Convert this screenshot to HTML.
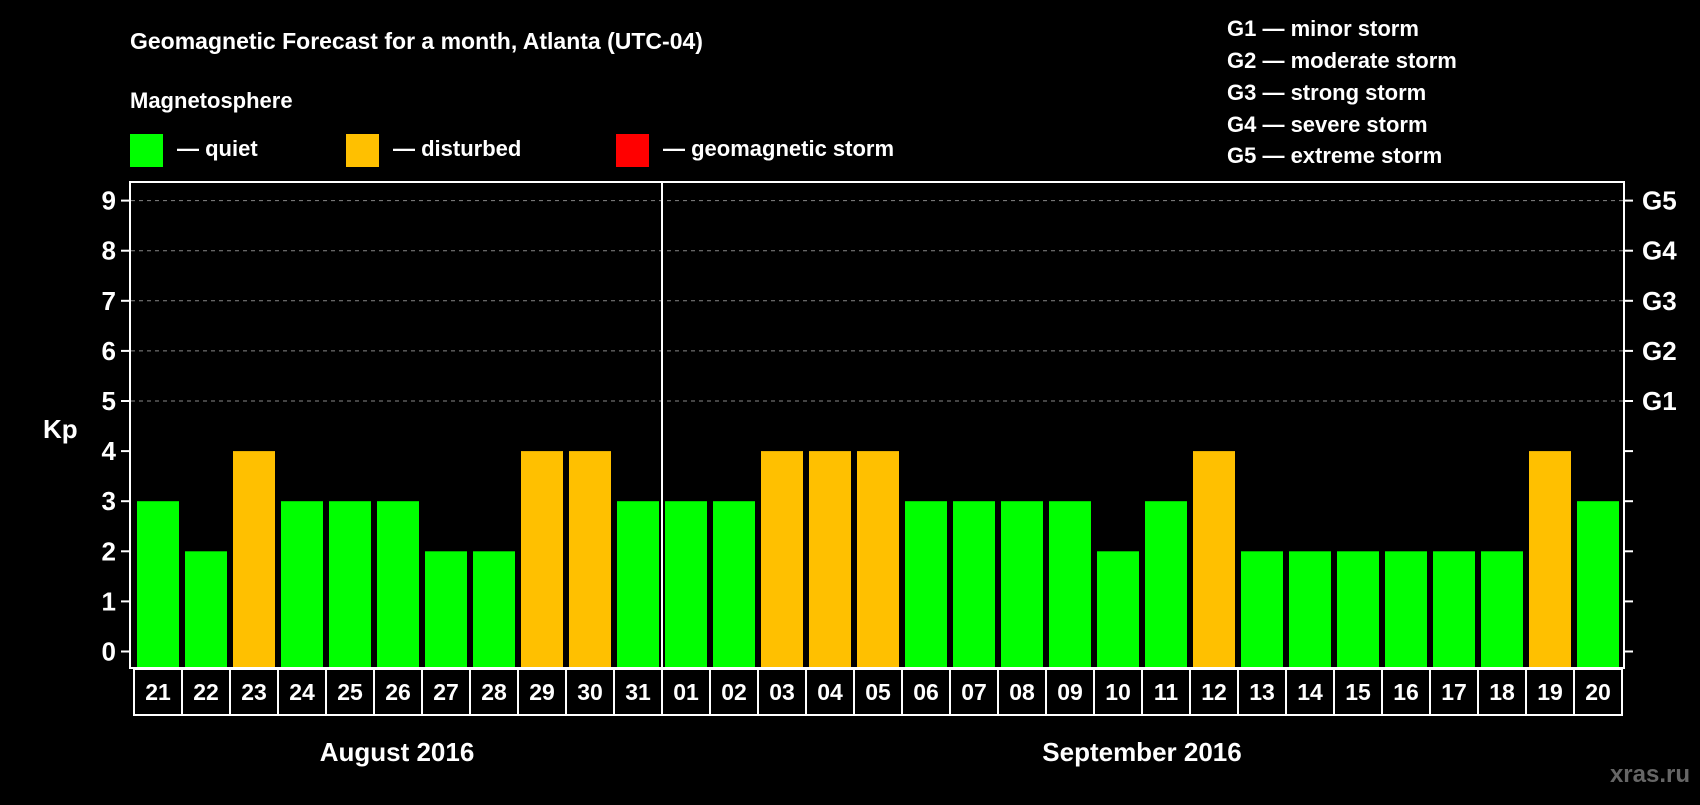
<!DOCTYPE html>
<html><head><meta charset="utf-8"><style>
body{margin:0;background:#000;width:1700px;height:800px;overflow:hidden;font-family:"Liberation Sans",Arial,sans-serif;}
svg text{font-family:"Liberation Sans",Arial,sans-serif;font-weight:bold;fill:#fff;}
</style></head><body>
<svg width="1700" height="800">
<text x="130" y="49" font-size="23">Geomagnetic Forecast for a month, Atlanta (UTC-04)</text>
<text x="130" y="108" font-size="22">Magnetosphere</text>
<rect x="130" y="134" width="33" height="33" fill="#00ff00"/>
<text x="177" y="156" font-size="22">— quiet</text>
<rect x="346" y="134" width="33" height="33" fill="#ffc000"/>
<text x="393" y="156" font-size="22">— disturbed</text>
<rect x="616" y="134" width="33" height="33" fill="#ff0000"/>
<text x="663" y="156" font-size="22">— geomagnetic storm</text>
<g font-size="22">
<text x="1227" y="36">G1 — minor storm</text>
<text x="1227" y="68">G2 — moderate storm</text>
<text x="1227" y="100">G3 — strong storm</text>
<text x="1227" y="132">G4 — severe storm</text>
<text x="1227" y="163">G5 — extreme storm</text>
</g>
<text x="43" y="438" font-size="26">Kp</text>
<g id="grid"></g>
<g id="bars"></g>
<rect x="130" y="182" width="1494" height="486" fill="none" stroke="#fff" stroke-width="2"/>
<line x1="662" y1="182" x2="662" y2="668" stroke="#fff" stroke-width="2"/>
<g id="dates"></g>
<text x="397" y="761" font-size="26" text-anchor="middle">August 2016</text>
<text x="1142" y="761" font-size="26" text-anchor="middle">September 2016</text>
<text x="1690" y="782" font-size="24" text-anchor="end" style="fill:#666">xras.ru</text>
</svg>
<script>
const days=["21","22","23","24","25","26","27","28","29","30","31","01","02","03","04","05","06","07","08","09","10","11","12","13","14","15","16","17","18","19","20"];
const kpValues=[3,2,4,3,3,3,2,2,4,4,3,3,3,4,4,4,3,3,3,3,2,3,4,2,2,2,2,2,2,4,3];
const yTicks=[0,1,2,3,4,5,6,7,8,9];
const gLabels=["","","","","","G1","G2","G3","G4","G5"];
const NS="http://www.w3.org/2000/svg";
const y=v=>651.5-v*50.1;
const cellX=i=>134+i*48;
function mk(t,a,p){const e=document.createElementNS(NS,t);for(const k in a)e.setAttribute(k,a[k]);p.appendChild(e);return e;}
const grid=document.getElementById('grid'),bars=document.getElementById('bars'),dates=document.getElementById('dates');
yTicks.forEach((v,i)=>{
  const yy=y(v);
  if(v>=5){const l=mk('line',{x1:131,x2:1623,y1:yy,y2:yy,stroke:'#888','stroke-dasharray':'4,4','stroke-width':1},grid);
    
    }
  mk('line',{x1:121,x2:130,y1:yy,y2:yy,stroke:'#fff','stroke-width':2},grid);
  mk('line',{x1:1624,x2:1633,y1:yy,y2:yy,stroke:'#fff','stroke-width':2},grid);
  const t=mk('text',{x:116,y:yy+9,'font-size':26,'text-anchor':'end'},grid);t.textContent=v;
  
  
  if(gLabels[i]){const g=mk('text',{x:1642,y:yy+9,'font-size':26},grid);g.textContent=gLabels[i];
    
    }
});
kpValues.forEach((v,i)=>{
  const r=mk('rect',{x:cellX(i)+3,y:y(v),width:42,height:667-y(v),fill:v>=5?'#ff0000':(v>=4?'#ffc000':'#00ff00')},bars);
  
  
  const c=mk('rect',{x:cellX(i),y:669,width:48,height:46,fill:'none',stroke:'#fff','stroke-width':2},dates);
  
  
  const t=mk('text',{x:cellX(i)+24,y:700,'font-size':23,'text-anchor':'middle'},dates);t.textContent=days[i];
  
  
});
</script>
</body></html>
